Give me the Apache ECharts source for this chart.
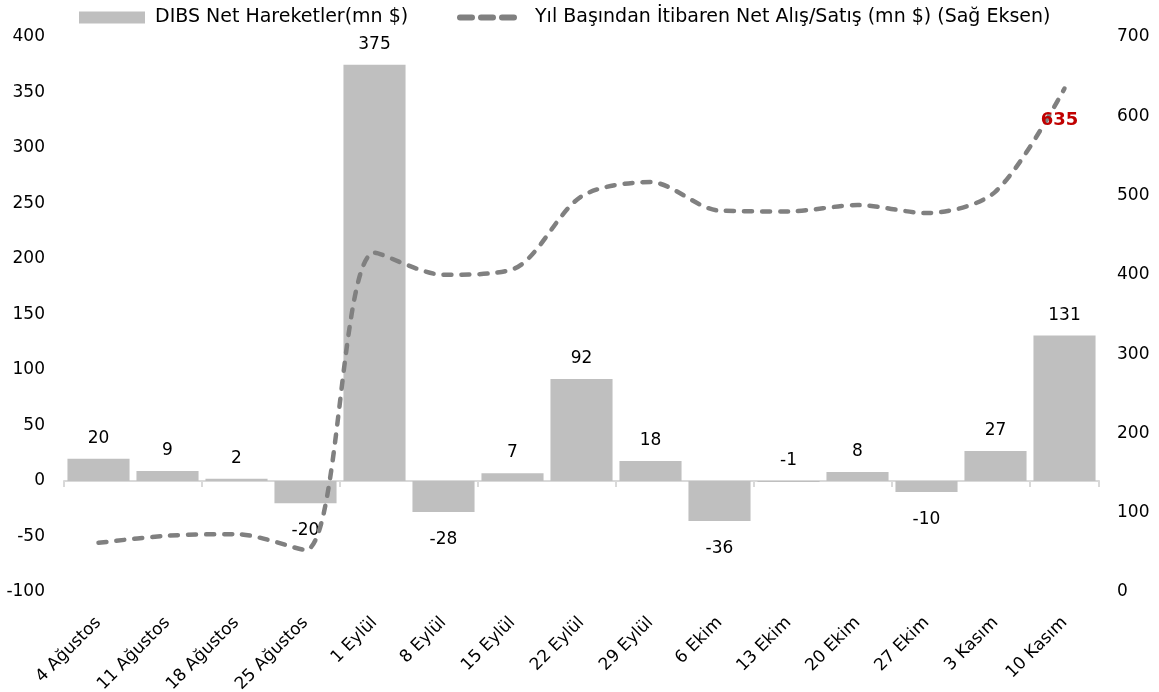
<!DOCTYPE html>
<html>
<head>
<meta charset="utf-8">
<script src="https://cdn.jsdelivr.net/npm/echarts@6/dist/echarts.min.js"></script>
<style>
html, body { margin: 0; padding: 0; background: #fff; }
#main { width: 1159px; height: 692px; }
</style>
</head>
<body>
<div id="main"></div>
<script>
let categories = ['4 Ağustos', '11 Ağustos', '18 Ağustos', '25 Ağustos', '1 Eylül', '8 Eylül', '15 Eylül',
	'22 Eylül', '29 Eylül', '6 Ekim', '13 Ekim', '20 Ekim', '27 Ekim', '3 Kasım', '10 Kasım'];
let netMoves = [20, 9, 2, -20, 375, -28, 7, 92, 18, -36, -1, 8, -10, 27, 131];
let cumulative = [62, 71, 73, 53, 428, 400, 407, 499, 517, 481, 480, 488, 478, 505, 635];
let barName = 'DIBS Net Hareketler(mn $)';
let lineName = 'Yıl Başından İtibaren Net Alış/Satış (mn $) (Sağ Eksen)';

let font = 'DejaVu Sans';
let myChart = echarts.init(document.getElementById('main'));

let barData = netMoves.map(function (v) {
	if (v < -1) {
		return { value: v, label: { position: 'bottom', distance: 19 } };
	}
	return v;
});
let lineData = cumulative.map(function (v, i) {
	if (i === cumulative.length - 1) {
		return {
			value: v,
			symbol: 'circle',
			symbolSize: 1,
			label: {
				show: true, position: 'bottom', distance: 22, offset: [-5, 0],
				color: '#c00000', fontWeight: 'bold', fontSize: 18, fontFamily: font
			}
		};
	}
	return v;
});

// three rounded dashes for the line legend
let dashIcon = 'path://M3,0h12a3,3 0 0 1 0,6h-12a3,3 0 0 1 0,-6z' +
	'M24,0h12a3,3 0 0 1 0,6h-12a3,3 0 0 1 0,-6z' +
	'M45,0h12a3,3 0 0 1 0,6h-12a3,3 0 0 1 0,-6z';

let option = {
	backgroundColor: '#fff',
	animation: false,
	textStyle: { fontFamily: font, color: '#000' },
	legend: [{
		top: 3,
		left: 74,
		itemWidth: 66,
		itemHeight: 12,
		textStyle: { fontSize: 19, fontFamily: font, color: '#000', padding: [0, 0, 0, 5] },
		data: [{ name: barName, icon: 'rect' }]
	}, {
		top: 3,
		left: 452,
		itemWidth: 60,
		itemHeight: 6,
		textStyle: { fontSize: 19, fontFamily: font, color: '#000', padding: [0, 0, 0, 13] },
		data: [{ name: lineName, icon: dashIcon }]
	}],
	grid: { left: 64, right: 60, top: 37, bottom: 100, outerBoundsMode: 'none' },
	xAxis: [{
		type: 'category',
		data: categories,
		position: 'bottom',
		axisLine: { show: false, onZero: false },
		axisTick: { show: false },
		axisLabel: { interval: 0, rotate: 45, fontSize: 17, color: '#000', fontFamily: font, margin: 28 }
	}, {
		type: 'category',
		data: categories,
		position: 'bottom',
		axisLine: { onZero: true, onZeroAxisIndex: 0, lineStyle: { color: '#d9d9d9', width: 2 } },
		axisTick: { show: true, length: 6, lineStyle: { color: '#d9d9d9', width: 2 } },
		axisLabel: { show: false }
	}],
	yAxis: [{
		type: 'value', min: -100, max: 400, interval: 50,
		splitLine: { show: false },
		axisLabel: { fontSize: 17, color: '#000', margin: 19, fontFamily: font }
	}, {
		type: 'value', min: 0, max: 700, interval: 100,
		splitLine: { show: false },
		axisLabel: { fontSize: 17, color: '#000', margin: 18, fontFamily: font }
	}],
	series: [{
		name: barName,
		type: 'bar',
		barCategoryGap: '10%',
		itemStyle: { color: '#bfbfbf' },
		label: { show: true, position: 'top', distance: 12, fontSize: 17, color: '#000', fontFamily: font },
		data: barData
	}, {
		name: lineName,
		type: 'line',
		yAxisIndex: 1,
		smooth: 0.3,
		symbol: 'none',
		itemStyle: { color: '#808080' },
		lineStyle: { color: '#808080', width: 4.5, type: [8, 10], cap: 'round' },
		data: lineData
	}]
};
myChart.setOption(option);
</script>
</body>
</html>
